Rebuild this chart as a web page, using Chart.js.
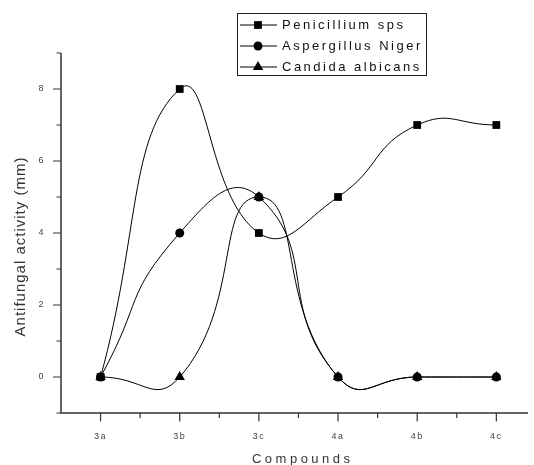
<!DOCTYPE html>
<html><head><meta charset="utf-8">
<script src="https://cdn.jsdelivr.net/npm/chart.js@4"></script>
<style>html,body{margin:0;padding:0;background:#fff;overflow:hidden}</style>
</head><body>
<canvas id="c" width="534" height="465"></canvas>
<script>
const categories = ['3a','3b','3c','4a','4b','4c'];
const penicillium = [0,8,4,5,7,7];
const aspergillus = [0,4,5,0,0,0];
const candida = [0,0,5,0,0,0];
const seriesNames = ['Penicillium sps','Aspergillus Niger','Candida albicans'];
const yTickLabels = [0,2,4,6,8];
const yMinorTicks = [-1,1,3,5,7,9];
const xTitle = 'Compounds';
const yTitle = 'Antifungal activity (mm)';

const FONT = "'Liberation Sans', Arial, sans-serif";
Chart.defaults.font.family = FONT;

const markers = [
  {pointStyle:'rect', radius:5.5, tension:0.5},
  {pointStyle:'circle', radius:4.5, tension:0.55},
  {pointStyle:'triangle', radius:6, tension:0.55}
];
function toXY(arr){ return arr.map((v,i)=>({x:i,y:v})); }
const datasets = [penicillium, aspergillus, candida].map((arr,k)=>({
  label: seriesNames[k],
  data: toXY(arr),
  borderColor:'#000', backgroundColor:'#000', borderWidth:1,
  pointStyle: markers[k].pointStyle, pointRadius: markers[k].radius,
  pointHoverRadius: markers[k].radius, pointBorderWidth: 0,
  tension: markers[k].tension, fill:false
}));

const extras = {
  id:'extras',
  beforeDraw(chart){
    const ctx = chart.ctx;
    ctx.save(); ctx.fillStyle='#fff'; ctx.fillRect(0,0,chart.width,chart.height); ctx.restore();
    ctx.letterSpacing = '1.5px';
  },
  afterDraw(chart){
    const ctx = chart.ctx, xs = chart.scales.x, ys = chart.scales.y, a = chart.chartArea;
    ctx.save();
    ctx.letterSpacing = '0px';
    ctx.strokeStyle = '#333'; ctx.lineWidth = 1.5;
    ctx.beginPath();
    ctx.moveTo(a.left, a.top); ctx.lineTo(a.left, a.bottom); ctx.lineTo(a.right, a.bottom);
    ctx.stroke();
    ctx.lineWidth = 1.2;
    ctx.beginPath();
    yTickLabels.forEach(v=>{ const p = ys.getPixelForValue(v); ctx.moveTo(a.left-8,p); ctx.lineTo(a.left,p); });
    yMinorTicks.forEach(v=>{ const p = ys.getPixelForValue(v); ctx.moveTo(a.left-4.5,p); ctx.lineTo(a.left,p); });
    categories.forEach((c,i)=>{
      const p = xs.getPixelForValue(i); ctx.moveTo(p,a.bottom); ctx.lineTo(p,a.bottom+8.5);
      const q = xs.getPixelForValue(i+0.5); if (q < a.right) { ctx.moveTo(q,a.bottom); ctx.lineTo(q,a.bottom+5); }
    });
    ctx.stroke();

    // axis titles
    ctx.fillStyle = '#333';
    ctx.textBaseline = 'middle';
    ctx.textAlign = 'center';
    ctx.font = "13px " + FONT;
    ctx.letterSpacing = '3.5px';
    ctx.fillText(xTitle, 301 + 1.75, 459);
    ctx.save();
    ctx.translate(21, 247);
    ctx.rotate(-Math.PI/2);
    ctx.letterSpacing = '1px';
    ctx.font = "15px " + FONT;
    ctx.fillText(yTitle, 0.5, 0);
    ctx.restore();

    // legend
    ctx.letterSpacing = '0px';
    ctx.strokeStyle = '#222'; ctx.lineWidth = 1;
    ctx.strokeRect(237.5, 13.5, 189, 62);
    const rows = [25, 46, 67];
    seriesNames.forEach((name,k)=>{
      const y = rows[k];
      ctx.strokeStyle = '#000'; ctx.lineWidth = 1;
      ctx.beginPath(); ctx.moveTo(240,y); ctx.lineTo(277,y); ctx.stroke();
      ctx.fillStyle = '#000';
      Chart.helpers.drawPoint(ctx, {pointStyle: markers[k].pointStyle, radius: markers[k].radius, rotation:0, borderWidth:0}, 258, y);
      ctx.fillStyle = '#111';
      ctx.textAlign = 'left';
      ctx.font = "13px " + FONT;
      ctx.letterSpacing = '2.5px';
      ctx.fillText(name, 282, y+0.5);
      ctx.letterSpacing = '0px';
    });
    ctx.restore();
  }
};

new Chart(document.getElementById('c'), {
  type:'line',
  data:{ datasets },
  options:{
    responsive:false, animation:false, events:[],
    layout:{ padding:{ top:53, left:0, right:0, bottom:0 } },
    plugins:{ legend:{display:false}, tooltip:{enabled:false} },
    scales:{
      x:{
        type:'linear', min:-0.5, max:5.4,
        afterBuildTicks(s){ s.ticks = categories.map((_,i)=>({value:i})); },
        afterFit(s){ s.height = 52; },
        grid:{ display:false, drawTicks:false },
        border:{ display:false },
        ticks:{ padding:18, color:'#444', font:{size:9}, maxRotation:0, autoSkip:false,
          callback:(v)=> categories[v] !== undefined ? categories[v] : '' }
      },
      y:{
        type:'linear', min:-1, max:9,
        afterBuildTicks(s){ s.ticks = yTickLabels.map(v=>({value:v})); },
        afterFit(s){ s.width = 61; },
        grid:{ display:false, drawTicks:false },
        border:{ display:false },
        ticks:{ padding:16, color:'#444', font:{size:9} }
      }
    }
  },
  plugins:[extras]
});
</script>
</body></html>
